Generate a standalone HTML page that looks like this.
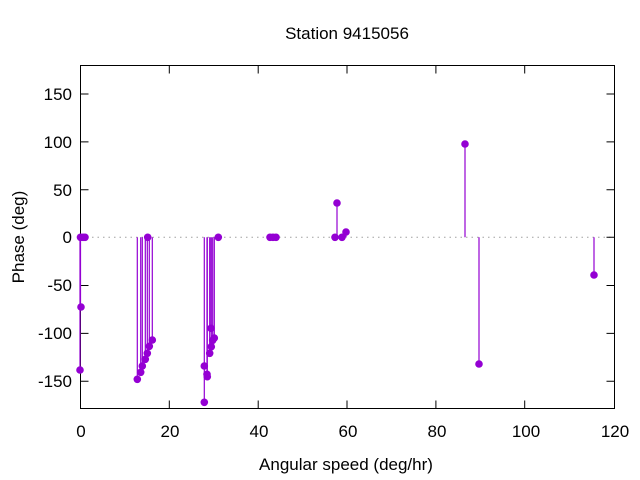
<!DOCTYPE html>
<html><head><style>body{margin:0;background:#fff}svg{display:block}text{font-family:"Liberation Sans","DejaVu Sans",sans-serif;font-size:17px;fill:#000}</style></head><body>
<svg width="640" height="480" viewBox="0 0 640 480">
<line x1="81" y1="237.3" x2="614" y2="237.3" stroke="#a0a0a0" stroke-dasharray="1.5,4" stroke-width="1"/>
<g stroke="#000" stroke-width="1">
<rect x="80.5" y="65.5" width="534" height="343" fill="none"/>
<path d="M80.5 94h8M80.5 141.9h8M80.5 189.8h8M80.5 237.3h8M80.5 285.5h8M80.5 333.4h8M80.5 381.3h8M614.5 94h-8M614.5 141.9h-8M614.5 189.8h-8M614.5 237.3h-8M614.5 285.5h-8M614.5 333.4h-8M614.5 381.3h-8"/>
<path d="M80.5 408.5v-8M169.3 408.5v-8M258.2 408.5v-8M347 408.5v-8M435.9 408.5v-8M524.7 408.5v-8M169.3 65.5v8M258.2 65.5v8M347 65.5v8M435.9 65.5v8M524.7 65.5v8"/>
</g>
<g text-anchor="end">
<text x="72" y="100">150</text><text x="72" y="148">100</text><text x="72" y="196">50</text><text x="72" y="243">0</text><text x="72" y="291">-50</text><text x="72" y="339">-100</text><text x="72" y="387">-150</text>
</g>
<g text-anchor="middle">
<text x="81" y="437">0</text><text x="170" y="437">20</text><text x="259" y="437">40</text><text x="348" y="437">60</text><text x="437" y="437">80</text><text x="526" y="437">100</text><text x="615" y="437">120</text>
<text x="346" y="470">Angular speed (deg/hr)</text>
<text x="347" y="39">Station 9415056</text>
<text transform="translate(24,237) rotate(-90)">Phase (deg)</text>
</g>
<g stroke="#9400d3" stroke-width="1.2" fill="#9400d3">
<path d="M80.5 237.3V307M80 237.3V370M137.3 237.3V379.3M140.7 237.3V372.3M142.3 237.3V366M145.3 237.3V359.3M147.3 237.3V353.3M149.3 237.3V346.3M152.3 237.3V340M204.3 237.3V402.3M207 237.3V374.3M207.3 237.3V376.7M209.7 237.3V353.3M211.3 237.3V346.7M211 237.3V328.3M212.7 237.3V340.3M214.3 237.3V338M337 237.3V203M346 237.3V232M465 237.3V144M479 237.3V364M594 237.3V275"/>
<g stroke="none">
<circle cx="80.5" cy="237.3" r="3.8"/><circle cx="83" cy="237.3" r="3.8"/><circle cx="85" cy="237.3" r="3.8"/><circle cx="81" cy="307" r="3.8"/><circle cx="80" cy="370" r="3.8"/>
<circle cx="137.3" cy="379.3" r="3.8"/><circle cx="140.7" cy="372.3" r="3.8"/><circle cx="142.3" cy="366" r="3.8"/><circle cx="145.3" cy="359.3" r="3.8"/><circle cx="147.3" cy="353.3" r="3.8"/><circle cx="149.3" cy="346.3" r="3.8"/><circle cx="147.7" cy="237.3" r="3.8"/><circle cx="152.3" cy="340" r="3.8"/>
<circle cx="204.3" cy="402.3" r="3.8"/><circle cx="204.3" cy="366" r="3.8"/><circle cx="207" cy="374.3" r="3.8"/><circle cx="207.3" cy="376.7" r="3.8"/><circle cx="209.7" cy="353.3" r="3.8"/><circle cx="211.3" cy="346.7" r="3.8"/><circle cx="211" cy="328.3" r="3.8"/><circle cx="212.7" cy="340.3" r="3.8"/><circle cx="214.3" cy="338" r="3.8"/><circle cx="218.3" cy="237.3" r="3.8"/>
<circle cx="270" cy="237.3" r="3.8"/><circle cx="273" cy="237.3" r="3.8"/><circle cx="276" cy="237.3" r="3.8"/>
<circle cx="335" cy="237.3" r="3.8"/><circle cx="337" cy="203" r="3.8"/><circle cx="342" cy="237.3" r="3.8"/><circle cx="346" cy="232" r="3.8"/>
<circle cx="465" cy="144" r="3.8"/><circle cx="479" cy="364" r="3.8"/><circle cx="594" cy="275" r="3.8"/>
</g></g>
</svg>
</body></html>
